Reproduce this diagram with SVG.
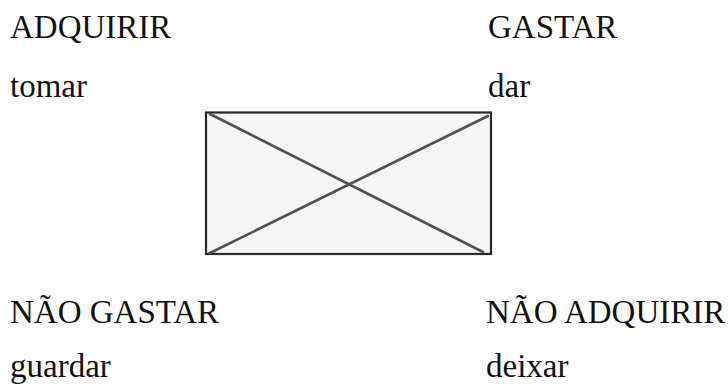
<svg xmlns="http://www.w3.org/2000/svg" width="728" height="387" viewBox="0 0 728 387">
<style>
.t{font-family:"Liberation Serif","Times New Roman",serif;font-size:33px;fill:#111}
.box{fill:#f6f6f6;stroke:#2a2a2a;stroke-width:2.2}
.diag{stroke:#505050;stroke-width:2.6;stroke-linecap:round;fill:none}
</style>
<rect width="728" height="387" fill="#ffffff"/>
<g id="adquirir"><text class="t" x="10" y="38">ADQUIRIR</text><text class="t" x="10" y="97">tomar</text></g>
<g id="gastar"><text class="t" x="488" y="38">GASTAR</text><text class="t" x="488" y="97">dar</text></g>
<g id="nao-gastar"><text class="t" x="10" y="323">NÃO GASTAR</text><text class="t" x="10" y="377">guardar</text></g>
<g id="nao-adquirir"><text class="t" x="486" y="323">NÃO ADQUIRIR</text><text class="t" x="486" y="377">deixar</text></g>
<g id="square"><rect class="box" x="206" y="112.5" width="285" height="141.5"/></g>
<g id="connectors">
<line class="diag" x1="210" y1="114" x2="483" y2="252"/>
<line class="diag" x1="488" y1="116" x2="210" y2="253"/>
</g>
</svg>
